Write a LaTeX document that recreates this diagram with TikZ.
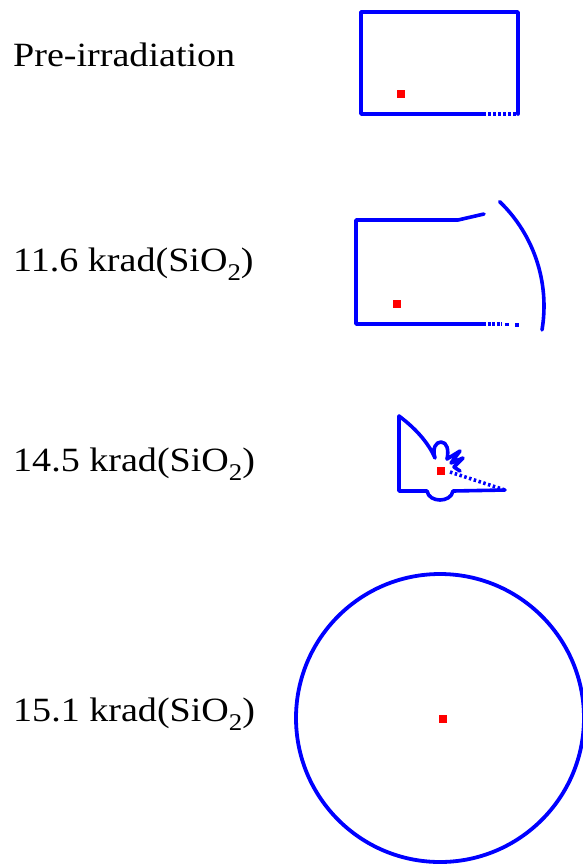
\documentclass[tikz,border=0pt]{standalone}
\usepackage{fontspec}
\setmainfont[FakeStretch=1.12]{Liberation Serif}
\newcommand\subtwo{\raisebox{-0.28em}{\fontsize{24}{26}\selectfont 2}}
\begin{document}
\begin{tikzpicture}[x=1pt,y=-1pt,
  blueline/.style={draw=blue, line width=3.6pt, line join=round, line cap=round},
  dotline/.style={draw=blue, line width=3.6pt, dash pattern=on 2.5pt off 2.5pt},
  redsq/.style={fill=red, draw=none, minimum size=8pt, inner sep=0pt, shape=rectangle},
  lbl/.style={anchor=base west, inner sep=0pt, font=\fontsize{34}{40}\selectfont}]
\useasboundingbox (0,0) rectangle (583,865);

% labels
\node[lbl] (l1) at (13,66) {Pre-irradiation};
\node[lbl] (l2) at (13,271) {11.6 krad(SiO\subtwo)};
\node[lbl] (l3) at (13,471) {14.5 krad(SiO\subtwo)};
\node[lbl] (l4) at (13,721) {15.1 krad(SiO\subtwo)};

% picture 1
\draw[blueline] (483,114) -- (361,114) -- (361,12) -- (518,12) -- (518,114);
\draw[dotline] (483,114) -- (518,114);
\node[redsq] (r1) at (401,94) {};

% picture 2
\draw[blueline] (484,214) -- (458,220) -- (356,220) -- (356,324) -- (483,324);
\draw[blue, line width=3.6pt, dash pattern=on 3pt off 1.5pt] (483,324) -- (502,324);
\fill[blue] (505,322.5) rectangle +(3.5,3.5);
\fill[blue] (515,323) rectangle +(3.5,3.5);
\node[redsq] (r2) at (397,304) {};
\coordinate (c2) at (399,306);
\draw[blueline] (c2) ++(-46:145) arc[start angle=-46, end angle=9.5, radius=145];

% picture 3
\draw[blueline] (399,416) -- (399,491) -- (427,491)
  .. controls (429,503) and (451,503) .. (453,491) -- (505,490);
\draw[blueline] (399,416) .. controls (415,428) and (428,442) .. (435,458)
  .. controls (432,448) and (436,442) .. (441,442)
  .. controls (447,442) and (449,450) .. (447,459)
  -- (460,451) -- (451,463) -- (463,458) -- (454,467) -- (460,471);
\draw[dotline] (450,472) -- (505,490);
\node[redsq] (r3) at (441,471) {};

% picture 4
\coordinate (c4) at (440,718);
\draw[blue, line width=3.8pt] (c4) circle[radius=144];
\node[redsq] (r4) at (443,719) {};
\end{tikzpicture}
\end{document}
